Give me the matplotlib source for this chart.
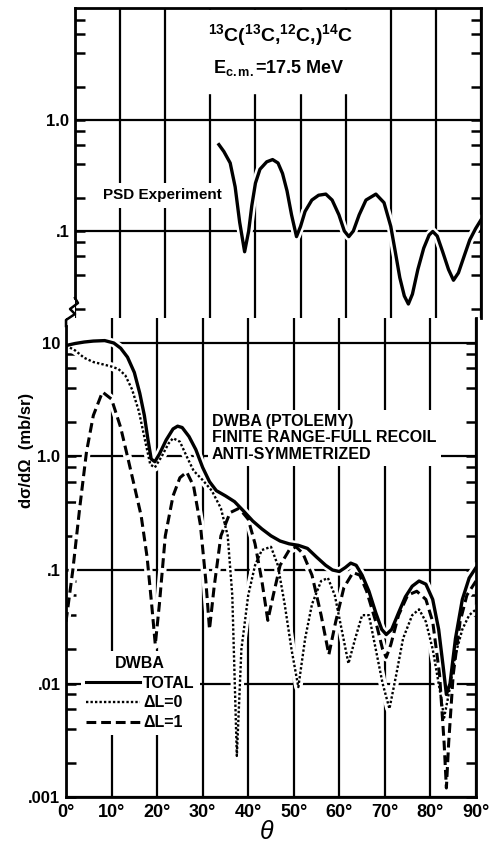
import matplotlib.pyplot as plt
from matplotlib.lines import Line2D
from matplotlib.patches import Rectangle

plt.rcParams['font.family'] = ['Liberation Sans', 'DejaVu Sans']
plt.rcParams['font.weight'] = 'bold'
plt.rcParams['mathtext.fontset'] = 'custom'
plt.rcParams['mathtext.rm'] = 'Liberation Sans:bold'
plt.rcParams['mathtext.bf'] = 'Liberation Sans:bold'
plt.rcParams['mathtext.it'] = 'Liberation Sans:italic:bold'

# 1. Data

# upper panel: PSD experiment
psd_theta = [31.9, 33, 34.4, 35.5, 36.5, 37.6, 38.5, 39.2, 40, 41, 42.5, 43.8, 45, 46, 47, 48,
             49.1, 50, 51, 52.5, 54, 55.6, 57, 58.5, 59.7, 60.7, 61.7, 63, 64.5, 66.7, 68.5, 70,
             71, 72, 73, 73.9, 74.8, 76, 77.3, 78.5, 79.3, 80.3, 81.5, 82.8, 83.9, 85, 86.3,
             87.5, 88.8, 90]
psd_val = [0.60, 0.52, 0.41, 0.25, 0.12, 0.065, 0.10, 0.17, 0.27, 0.36, 0.42, 0.44, 0.41, 0.33,
           0.23, 0.14, 0.089, 0.11, 0.15, 0.19, 0.21, 0.215, 0.19, 0.14, 0.10, 0.089, 0.10, 0.14,
           0.19, 0.215, 0.18, 0.11, 0.065, 0.038, 0.026, 0.022, 0.027, 0.045, 0.07, 0.092, 0.099,
           0.09, 0.065, 0.045, 0.036, 0.042, 0.06, 0.083, 0.105, 0.126]

# lower panel: DWBA total
total_theta = [0, 2, 4, 6, 8.5, 10.5, 12, 13.5, 15, 16.2, 17.2, 18, 18.7, 19.5, 20.5, 22, 23.5,
               24.5, 25.5, 27, 28.5, 30, 31.5, 33, 35, 37, 39, 41, 43, 45, 47, 49, 51, 53, 55,
               57, 58.5, 60, 61.3, 62.5, 63.7, 65, 66.5, 68, 69.3, 70.3, 71.5, 73, 74.5, 76,
               77.5, 79, 80.5, 81.8, 82.8, 83.5, 84.3, 85.5, 87, 88.5, 90]
total_val = [9.5, 9.9, 10.2, 10.4, 10.5, 10.0, 9.0, 7.5, 5.5, 3.6, 2.3, 1.4, 0.95, 0.9, 1.05,
             1.4, 1.75, 1.85, 1.8, 1.5, 1.15, 0.8, 0.6, 0.5, 0.45, 0.4, 0.33, 0.27, 0.23, 0.2,
             0.18, 0.17, 0.165, 0.155, 0.13, 0.11, 0.1, 0.097, 0.105, 0.115, 0.11, 0.09, 0.065,
             0.042, 0.03, 0.027, 0.03, 0.042, 0.058, 0.072, 0.08, 0.075, 0.055, 0.03, 0.014,
             0.008, 0.01, 0.025, 0.055, 0.085, 0.105]

# delta L = 0 (dotted)
dl0_theta = [0, 2, 4, 6, 8, 10, 11.5, 13, 14.5, 16, 17.5, 18.5, 19.5, 21, 22.5, 23.5, 25, 26.5,
             28, 30, 32, 34, 35.5, 36.5, 37.5, 38.5, 40, 41.5, 43, 45, 46.5, 48, 49.5, 51, 52.5,
             54, 56, 57.5, 59, 60.5, 62, 63.5, 65, 66.5, 68, 69.5, 71, 72.5, 74, 76, 77.5, 79,
             80.5, 82, 83, 84, 85.5, 87, 88.5, 90]
dl0_val = [9.5, 8.6, 7.4, 6.8, 6.5, 6.2, 5.9, 5.2, 3.9, 2.5, 1.3, 0.85, 0.8, 1.0, 1.3, 1.45,
           1.35, 1.0, 0.75, 0.62, 0.5, 0.35, 0.2, 0.06, 0.0023, 0.02, 0.06, 0.11, 0.15, 0.16,
           0.11, 0.05, 0.02, 0.0093, 0.025, 0.05, 0.08, 0.085, 0.06, 0.03, 0.015, 0.025, 0.04,
           0.04, 0.02, 0.01, 0.006, 0.012, 0.025, 0.04, 0.045, 0.035, 0.02, 0.009, 0.005,
           0.008, 0.018, 0.03, 0.04, 0.045]

# delta L = 1 (dashed)
dl1_theta = [0, 1.5, 3, 4.5, 6, 8, 10, 12, 13.5, 15, 16.5, 17.8, 18.8, 19.6, 20.5, 21.8, 23.5,
             25, 26.5, 28, 29.5, 30.7, 31.5, 32.5, 34, 36, 38, 40, 41.5, 43, 44.3, 45.5, 47, 49,
             50.5, 52, 54, 56, 57.7, 59.2, 61, 63, 64.5, 66, 68, 69.5, 70.3, 71.3, 73, 75, 77,
             79, 80.5, 82, 83, 83.5, 84, 85, 86.5, 88, 90]
dl1_val = [0.035, 0.1, 0.35, 1.1, 2.3, 3.7, 3.2, 1.8, 1.0, 0.55, 0.3, 0.13, 0.05, 0.022, 0.05,
           0.2, 0.45, 0.65, 0.73, 0.55, 0.25, 0.08, 0.03, 0.07, 0.2, 0.32, 0.35, 0.28, 0.17,
           0.08, 0.036, 0.06, 0.11, 0.15, 0.16, 0.14, 0.09, 0.04, 0.018, 0.035, 0.07, 0.095,
           0.09, 0.065, 0.035, 0.02, 0.017, 0.022, 0.04, 0.06, 0.065, 0.055, 0.035, 0.012,
           0.003, 0.0012, 0.003, 0.012, 0.035, 0.06, 0.08]

angle_ticks = [0, 10, 20, 30, 40, 50, 60, 70, 80, 90]
angle_labels = ['0°', '10°', '20°', '30°', '40°', '50°', '60°', '70°', '80°', '90°']
top_ticks = [0.1, 1.0]
top_labels = ['.1', '1.0']
bot_ticks = [0.001, 0.01, 0.1, 1.0, 10.0]
bot_labels = ['.001', '.01', '.1', '1.0', '10']

# 2. Layout (pixel boxes of the original scan, which is slightly skewed)

W, H = 496, 856
TOP = (75, 8, 481, 318)   # left, top, right, bottom in px
BOT = (66, 318, 476, 797)
fig = plt.figure(figsize=(W / 100, H / 100), dpi=100)


def box(l, t, r, b):
    return [l / W, 1 - b / H, (r - l) / W, (b - t) / H]


def ax_frac(frame, x, y):
    l, t, r, b = frame
    return (x - l) / (r - l), (b - y) / (b - t)


ax_top = fig.add_axes(box(*TOP))
ax_bot = fig.add_axes(box(*BOT))
top_lim = (10 ** ((120 - 318) / 111), 10 ** ((120 - 8) / 111))
bot_lim = (1e-3, 10 ** (1 + (343 - 318) / 113.5))

for ax in (ax_top, ax_bot):
    ax.set_yscale('log')
    ax.set_xlim(0, 90)
    ax.set_xticks(angle_ticks)
    ax.set_axisbelow(True)
    ax.grid(True, which='major', color='black', lw=1.6)
    ax.tick_params(axis='x', length=0, labelsize=13, pad=5)
    ax.tick_params(axis='y', which='both', direction='in', left=True, right=True,
                   length=7, width=1.8, labelsize=12, pad=4)
    for s in ax.spines.values():
        s.set_linewidth(2.0)

ax_top.spines['bottom'].set_visible(False)
ax_bot.spines['top'].set_visible(False)
ax_top.tick_params(axis='x', labelbottom=False)
ax_bot.set_xticklabels(angle_labels)

minor = [m * 10.0 ** e for e in range(-3, 2) for m in (2, 4, 6, 8)]
ax_top.set_yticks(top_ticks, top_labels)
ax_top.set_yticks([v for v in minor if top_lim[0] < v < top_lim[1]], minor=True)
ax_top.set_yticklabels([], minor=True)
ax_bot.set_yticks(bot_ticks, bot_labels)
ax_bot.set_yticks([v for v in minor if v < bot_lim[1]], minor=True)
ax_bot.set_yticklabels([], minor=True)
# limits after the ticks, set_yticks would widen them
ax_top.set_ylim(*top_lim)
ax_bot.set_ylim(*bot_lim)

# broken left axis
ax_top.spines['left'].set_bounds(10 ** ((120 - 298) / 111), top_lim[1])
ax_bot.spines['left'].set_bounds(1e-3, 10 ** (1 + (343 - 326) / 113.5))
zx = [75, 78, 70, 75, 66, 66]
zy = [298, 303, 309, 314, 320, 326]
fig.add_artist(Line2D([x / W for x in zx], [1 - y / H for y in zy], color='black', lw=1.8))

# 3. Curves: white halo first so the grid breaks around them, then ink


def curve(ax, th, val, **kw):
    ax.plot(th, val, color='white', lw=6, zorder=2)
    ax.plot(th, val, color='black', zorder=3, **kw)


curve(ax_top, psd_theta, psd_val, lw=2.4)
curve(ax_bot, dl1_theta, dl1_val, lw=2.2, ls=(0, (3.2, 1.6)))
curve(ax_bot, dl0_theta, dl0_val, lw=1.7, ls=(0, (1, 0.9)))
curve(ax_bot, total_theta, total_val, lw=2.4)

# 4. Labels

x0, y0 = ax_frac(TOP, 198, 93)
x1, y1 = ax_frac(TOP, 362, 10)
ax_top.add_patch(Rectangle((x0, y0), x1 - x0, y1 - y0, transform=ax_top.transAxes,
                           color='white', zorder=1))
ax_top.text(*ax_frac(TOP, 280, 35), r'$^{13}$C($^{13}$C,$^{12}$C,)$^{14}$C',
            transform=ax_top.transAxes, ha='center', va='center', fontsize=14)
ax_top.text(*ax_frac(TOP, 279, 68), r'E$_{\mathrm{c.m.}}$=17.5 MeV',
            transform=ax_top.transAxes, ha='center', va='center', fontsize=13)
ax_top.text(*ax_frac(TOP, 103, 195), 'PSD Experiment', transform=ax_top.transAxes,
            fontsize=11, ha='left', va='center',
            bbox=dict(facecolor='white', edgecolor='none', pad=4))

ax_bot.text(*ax_frac(BOT, 212, 438), 'DWBA (PTOLEMY)\nFINITE RANGE-FULL RECOIL\nANTI-SYMMETRIZED',
            transform=ax_bot.transAxes, fontsize=11.5, ha='left', va='center',
            linespacing=1.1, bbox=dict(facecolor='white', edgecolor='none', pad=3))

handles = [Line2D([], [], color='black', lw=2.2),
           Line2D([], [], color='black', lw=1.7, ls=(0, (1, 0.9))),
           Line2D([], [], color='black', lw=2.2, ls=(0, (3.2, 1.6)))]
leg = ax_bot.legend(handles, ['TOTAL', 'ΔL=0', 'ΔL=1'], title='DWBA', loc='upper left',
                    bbox_to_anchor=ax_frac(BOT, 73, 643), fontsize=11.5, handlelength=3.4,
                    handletextpad=0.2, labelspacing=0.3, borderpad=0.3, frameon=True,
                    fancybox=False, edgecolor='none', facecolor='white', framealpha=1,
                    title_fontproperties={'weight': 'bold', 'size': 11.5})

fig.text(27 / W, 1 - 450 / H, 'dσ/dΩ  (mb/sr)', rotation=90, ha='center', va='center',
         fontsize=12)
fig.text(267 / W, 1 - 832 / H, 'θ', ha='center', va='center', fontsize=18, style='italic',
         fontweight='normal')

fig.savefig('out.png', dpi=100)
